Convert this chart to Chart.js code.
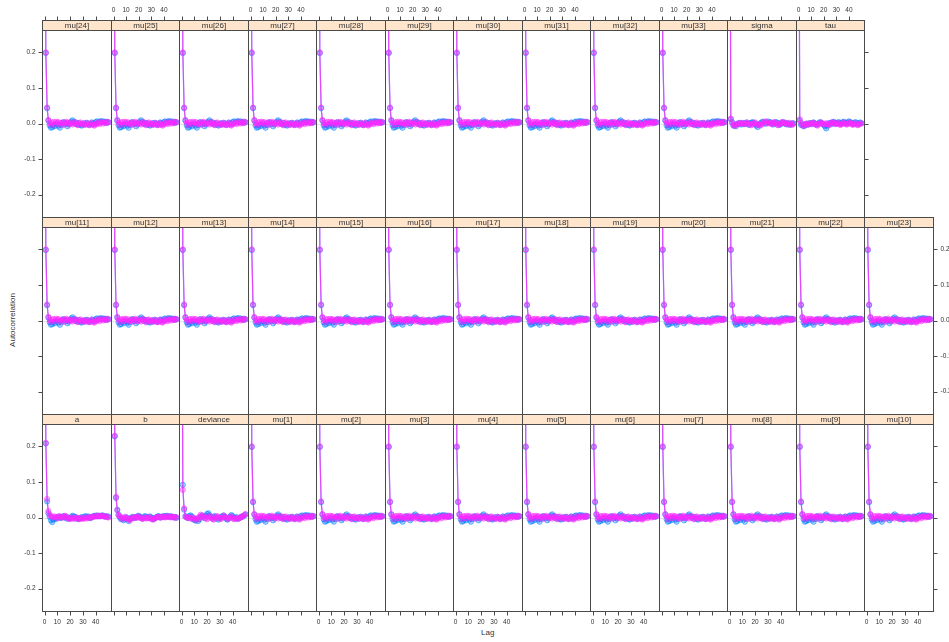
<!DOCTYPE html>
<html>
<head>
<meta charset="utf-8">
<script src="https://cdn.jsdelivr.net/npm/chart.js@4.4.1/dist/chart.umd.min.js"></script>
<style>
  html, body { margin: 0; padding: 0; background: #fff; overflow: hidden; }
  #wrap { position: relative; width: 949px; height: 642px; overflow: hidden; background: #fff; }
  #wrap canvas { position: absolute; }
  .axis-title { position: absolute; font: 8px "Liberation Sans", Arial, sans-serif; color: #333; white-space: nowrap; }
</style>
</head>
<body>
<div id="wrap">
  <div class="axis-title" style="left:481px;top:628px;">Lag</div>
  <div class="axis-title" style="left:12px;top:320px;transform:translate(-50%,-50%) rotate(-90deg);">Autocorrelation</div>
</div>
<script>
// lags 0..50 and axis ticks
const lags = [0,1,2,3,4,5,6,7,8,9,10,11,12,13,14,15,16,17,18,19,20,21,22,23,24,25,
  26,27,28,29,30,31,32,33,34,35,36,37,38,39,40,41,42,43,44,45,46,47,48,49,50];
const xTicks = [0, 10, 20, 30, 40];
const yTicks = [-0.2, -0.1, 0, 0.1, 0.2];

// panel names, one list per row (top to bottom)
const rowTop = ["mu[24]","mu[25]","mu[26]","mu[27]","mu[28]","mu[29]","mu[30]","mu[31]","mu[32]","mu[33]","sigma","tau"];
const rowMid = ["mu[11]","mu[12]","mu[13]","mu[14]","mu[15]","mu[16]","mu[17]","mu[18]","mu[19]","mu[20]","mu[21]","mu[22]","mu[23]"];
const rowBot = ["a","b","deviance","mu[1]","mu[2]","mu[3]","mu[4]","mu[5]","mu[6]","mu[7]","mu[8]","mu[9]","mu[10]"];

// autocorrelation by lag, chain 1 (blue) and chain 2 (magenta)
const muChain1 = [1,0.198,0.043,0.008,-0.005,-0.012,-0.010,-0.004,-0.008,-0.003,0.000,-0.006,-0.012,-0.004,0.002,0.004,-0.002,0.001,-0.008,-0.003,0.002,0.006,0.009,0.004,-0.001,0.002,-0.003,0.001,-0.004,-0.006,-0.002,0.001,-0.003,0.002,0.000,-0.004,-0.002,0.003,0.001,-0.002,0.004,0.006,0.002,0.005,0.007,0.004,0.006,0.003,0.005,0.002,0.004];
const muChain2 = [1,0.200,0.045,0.010,0.002,-0.004,0.003,0.004,-0.002,0.005,0.002,0.004,-0.003,0.001,0.003,-0.004,0.002,0.005,0.001,-0.002,0.003,0.000,-0.003,0.002,0.004,-0.002,-0.005,0.001,0.003,-0.002,0.000,-0.004,-0.002,0.002,-0.003,-0.005,-0.001,0.002,-0.004,-0.006,-0.002,0.001,0.003,-0.002,0.002,0.004,0.000,0.003,0.001,0.005,0.003];
const aChain1 = [1,0.208,0.045,0.012,0.002,-0.008,-0.013,-0.006,-0.002,-0.004,0.001,0.003,-0.002,0.000,0.002,0.004,0.001,-0.003,0.000,-0.002,-0.004,0.002,0.005,0.003,0.001,-0.002,-0.004,-0.003,-0.001,0.001,-0.002,0.002,0.004,0.001,0.003,0.000,-0.002,0.001,0.003,0.005,0.004,0.006,0.003,0.005,0.004,0.006,0.005,0.003,0.004,0.002,0.003];
const aChain2 = [1,0.210,0.052,0.018,0.008,0.004,0.002,0.000,0.003,0.001,-0.002,0.002,0.004,0.001,-0.001,0.002,0.005,0.003,-0.002,-0.004,-0.003,0.000,-0.002,-0.004,-0.002,0.001,-0.003,-0.005,-0.003,-0.001,-0.004,-0.002,0.000,-0.003,-0.001,0.002,-0.001,0.001,0.003,0.002,0.004,0.003,0.005,0.004,0.003,0.005,0.004,0.002,0.003,0.001,0.000];
const bChain1 = [1,0.228,0.055,0.022,0.008,0.000,-0.005,-0.003,-0.008,-0.004,0.001,-0.002,-0.010,-0.004,-0.001,0.002,0.000,-0.002,0.001,0.003,0.005,0.002,0.000,-0.003,0.001,0.004,0.002,-0.001,0.001,0.003,0.000,-0.002,-0.005,-0.002,0.001,0.003,0.004,0.001,0.000,0.002,0.004,0.003,0.005,0.002,0.004,0.002,0.003,0.001,0.000,0.002,-0.001];
const bChain2 = [1,0.230,0.058,0.020,0.006,0.004,0.000,-0.004,-0.002,0.002,0.000,-0.003,-0.006,-0.008,-0.003,0.000,-0.002,0.001,0.002,-0.001,0.003,0.000,-0.002,-0.004,-0.002,0.000,-0.003,-0.001,0.002,-0.002,-0.004,-0.006,-0.003,-0.001,0.000,0.002,0.001,-0.001,0.002,0.003,0.001,0.000,0.002,0.004,0.002,0.000,0.003,0.001,0.002,-0.001,0.001];
const devChain1 = [1,0.092,0.022,0.004,0.001,-0.002,0.004,0.006,0.003,-0.004,-0.007,-0.009,-0.004,-0.010,-0.005,0.002,0.006,0.003,-0.002,0.005,0.010,0.012,0.006,0.001,-0.003,0.002,0.004,0.000,-0.003,-0.006,-0.002,0.001,0.004,0.006,0.002,-0.004,-0.006,-0.002,0.003,0.007,0.004,0.000,-0.002,0.001,-0.004,-0.002,0.000,0.003,0.002,0.006,0.008];
const devChain2 = [1,0.078,0.026,0.002,0.000,-0.001,0.001,-0.002,-0.004,0.000,-0.003,-0.006,-0.002,-0.005,0.002,0.008,0.004,0.001,0.003,-0.002,-0.005,0.000,0.004,0.002,-0.003,-0.006,-0.004,0.002,0.004,0.001,-0.002,-0.004,0.000,0.005,0.002,-0.001,-0.004,-0.002,0.001,0.003,-0.002,-0.005,-0.003,-0.001,-0.004,-0.002,0.000,0.002,0.004,0.006,0.010];
const sigmaChain1 = [1,0.012,0.004,-0.006,-0.004,-0.008,-0.002,0.000,0.002,-0.003,0.001,-0.002,0.000,0.003,-0.001,-0.004,0.001,0.002,0.004,0.002,-0.002,-0.006,-0.010,-0.004,0.000,0.003,0.005,0.002,-0.001,0.003,0.006,0.002,0.004,0.001,-0.003,0.000,0.004,0.003,0.000,-0.004,-0.002,0.002,0.004,0.001,-0.002,0.002,-0.001,-0.004,-0.002,0.001,0.000];
const sigmaChain2 = [1,0.014,0.002,-0.004,-0.007,-0.003,0.000,-0.002,0.001,-0.001,0.002,0.000,-0.002,0.001,0.003,0.000,-0.003,-0.005,-0.002,0.001,0.003,-0.001,-0.004,-0.002,-0.006,-0.003,0.001,0.004,0.006,0.002,0.000,0.003,0.001,-0.002,0.002,0.004,0.001,-0.003,-0.005,-0.002,0.002,0.004,0.001,0.003,0.000,-0.003,-0.001,0.002,-0.002,-0.004,0.000];
const tauChain1 = [1,0.008,-0.004,-0.003,-0.008,-0.006,-0.002,0.000,-0.003,0.001,-0.002,0.002,0.003,0.000,-0.003,-0.002,0.001,0.004,0.002,-0.001,-0.004,-0.008,-0.014,-0.006,0.000,0.002,-0.002,0.003,0.005,0.002,-0.001,0.002,0.004,0.001,-0.002,0.003,0.005,0.002,0.000,0.003,0.006,0.004,0.002,-0.002,0.001,0.004,0.002,-0.002,0.001,0.003,0.000];
const tauChain2 = [1,0.012,0.002,-0.005,-0.006,-0.002,0.000,-0.004,-0.002,0.001,0.000,-0.002,0.002,0.000,-0.004,-0.006,-0.002,0.001,0.003,0.000,-0.003,-0.001,0.001,-0.002,-0.005,-0.002,0.002,0.004,0.001,-0.002,0.000,0.002,-0.001,-0.004,-0.002,0.001,0.003,0.000,-0.003,-0.002,0.001,0.003,0.000,-0.004,-0.002,0.001,-0.002,-0.005,-0.003,0.000,0.001];

const chainsByName = {
  a: [aChain1, aChain2],
  b: [bChain1, bChain2],
  deviance: [devChain1, devChain2],
  sigma: [sigmaChain1, sigmaChain2],
  tau: [tauChain1, tauChain2],
};
function chainsFor(name) {
  return chainsByName[name] || [muChain1, muChain2];
}

// layout of the lattice
const X0 = 42, COLW = 68.5;
const STRIP_TOPS = [20, 217, 414];
const STRIP_H = 10, PLOT_H = 187, PAD = 30;
const FRAME = "#4a4a4a";
const TEXT = "#333";
const TICK_FONT = '6.5px "Liberation Sans", Arial, sans-serif';
const STRIP_FONT = '8px "Liberation Sans", Arial, sans-serif';

const latticePanel = {
  id: "latticePanel",
  beforeDatasetsDraw(chart) {
    const { ctx, chartArea: ca, scales } = chart;
    const y0 = Math.round(scales.y.getPixelForValue(0)) + 0.5;
    ctx.save();
    ctx.strokeStyle = "#e4e4e4";
    ctx.lineWidth = 1;
    ctx.beginPath();
    ctx.moveTo(ca.left, y0);
    ctx.lineTo(ca.right, y0);
    ctx.stroke();
    ctx.restore();
  },
  afterDraw(chart, args, opts) {
    const { ctx, chartArea: ca, scales } = chart;
    const L = ca.left + 0.5, R = ca.right + 0.5, T = ca.top + 0.5, B = ca.bottom + 0.5;
    ctx.save();
    // strip
    ctx.fillStyle = "#ffe5cc";
    ctx.fillRect(L, T - STRIP_H, R - L, STRIP_H);
    ctx.strokeStyle = FRAME;
    ctx.lineWidth = 1;
    ctx.strokeRect(L, T - STRIP_H, R - L, STRIP_H);
    ctx.fillStyle = TEXT;
    ctx.font = STRIP_FONT;
    ctx.textAlign = "center";
    ctx.textBaseline = "middle";
    ctx.fillText(opts.name, (L + R) / 2, T - STRIP_H / 2 + 0.5);
    // panel frame
    ctx.strokeRect(L, T, R - L, B - T);

    ctx.font = TICK_FONT;
    ctx.beginPath();
    if (opts.bottom) {
      xTicks.forEach((v) => {
        const x = Math.round(scales.x.getPixelForValue(v)) + 0.5;
        ctx.moveTo(x, B); ctx.lineTo(x, B + 4);
      });
    }
    if (opts.top) {
      const top = T - STRIP_H;
      xTicks.forEach((v) => {
        const x = Math.round(scales.x.getPixelForValue(v)) + 0.5;
        ctx.moveTo(x, top); ctx.lineTo(x, top - 4);
      });
    }
    if (opts.left) {
      yTicks.forEach((v) => {
        const y = Math.round(scales.y.getPixelForValue(v)) + 0.5;
        ctx.moveTo(L, y); ctx.lineTo(L - 4, y);
      });
    }
    if (opts.right) {
      yTicks.forEach((v) => {
        const y = Math.round(scales.y.getPixelForValue(v)) + 0.5;
        ctx.moveTo(R, y); ctx.lineTo(R + 4, y);
      });
    }
    ctx.stroke();

    ctx.fillStyle = TEXT;
    if (opts.bottomLabels) {
      ctx.textAlign = "center"; ctx.textBaseline = "middle";
      xTicks.forEach((v) => ctx.fillText(String(v), scales.x.getPixelForValue(v), B + 11));
    }
    if (opts.topLabels) {
      ctx.textAlign = "center"; ctx.textBaseline = "middle";
      xTicks.forEach((v) => ctx.fillText(String(v), scales.x.getPixelForValue(v), T - STRIP_H - 10));
    }
    if (opts.leftLabels) {
      ctx.textAlign = "right"; ctx.textBaseline = "middle";
      yTicks.forEach((v) => ctx.fillText(v.toFixed(1), L - 7, scales.y.getPixelForValue(v)));
    }
    if (opts.rightLabels) {
      ctx.textAlign = "left"; ctx.textBaseline = "middle";
      yTicks.forEach((v) => ctx.fillText(v.toFixed(1), R + 7, scales.y.getPixelForValue(v)));
    }
    ctx.restore();
  },
};

function chainDataset(values, rgb, lineAlpha) {
  return {
    data: lags.map((lag, i) => ({ x: lag, y: values[i] })),
    borderColor: `rgba(${rgb},${lineAlpha})`,
    borderWidth: 1.2,
    pointRadius: 2.6,
    pointBorderWidth: 1,
    pointBackgroundColor: `rgba(${rgb},0.3)`,
    pointBorderColor: `rgba(${rgb},0.55)`,
    tension: 0,
  };
}

const wrap = document.getElementById("wrap");
const rows = [rowTop, rowMid, rowBot];

rows.forEach((names, r) => {
  names.forEach((name, c) => {
    const left = Math.round(X0 + c * COLW);
    const right = Math.round(X0 + (c + 1) * COLW);
    const w = right - left;
    const stripTop = STRIP_TOPS[r];
    const canvas = document.createElement("canvas");
    canvas.width = w + 2 * PAD;
    canvas.height = STRIP_H + PLOT_H + 2 * PAD;
    canvas.style.left = (left - PAD) + "px";
    canvas.style.top = (stripTop - PAD) + "px";
    canvas.style.width = canvas.width + "px";
    canvas.style.height = canvas.height + "px";
    wrap.appendChild(canvas);

    const lastCol = c === names.length - 1;
    const [chain1, chain2] = chainsFor(name);

    new Chart(canvas, {
      type: "line",
      data: {
        datasets: [
          chainDataset(chain2, "255,40,255", 0.8),
          chainDataset(chain1, "0,128,255", 0.55),
        ],
      },
      options: {
        responsive: false,
        animation: false,
        devicePixelRatio: 1,
        layout: { padding: { left: PAD, right: PAD, top: PAD + STRIP_H, bottom: PAD } },
        scales: {
          x: { type: "linear", min: -2, max: 52, display: false },
          y: { type: "linear", min: -0.263, max: 0.263, display: false },
        },
        plugins: {
          legend: { display: false },
          tooltip: { enabled: false },
          latticePanel: {
            name,
            bottom: r === 2,
            bottomLabels: r === 2 && c % 2 === 0,
            top: r === 0,
            topLabels: r === 0 && c % 2 === 1,
            left: c === 0,
            leftLabels: c === 0 && r !== 1,
            right: lastCol,
            rightLabels: lastCol && r === 1,
          },
        },
      },
      plugins: [latticePanel],
    });
  });
});
</script>
</body>
</html>
